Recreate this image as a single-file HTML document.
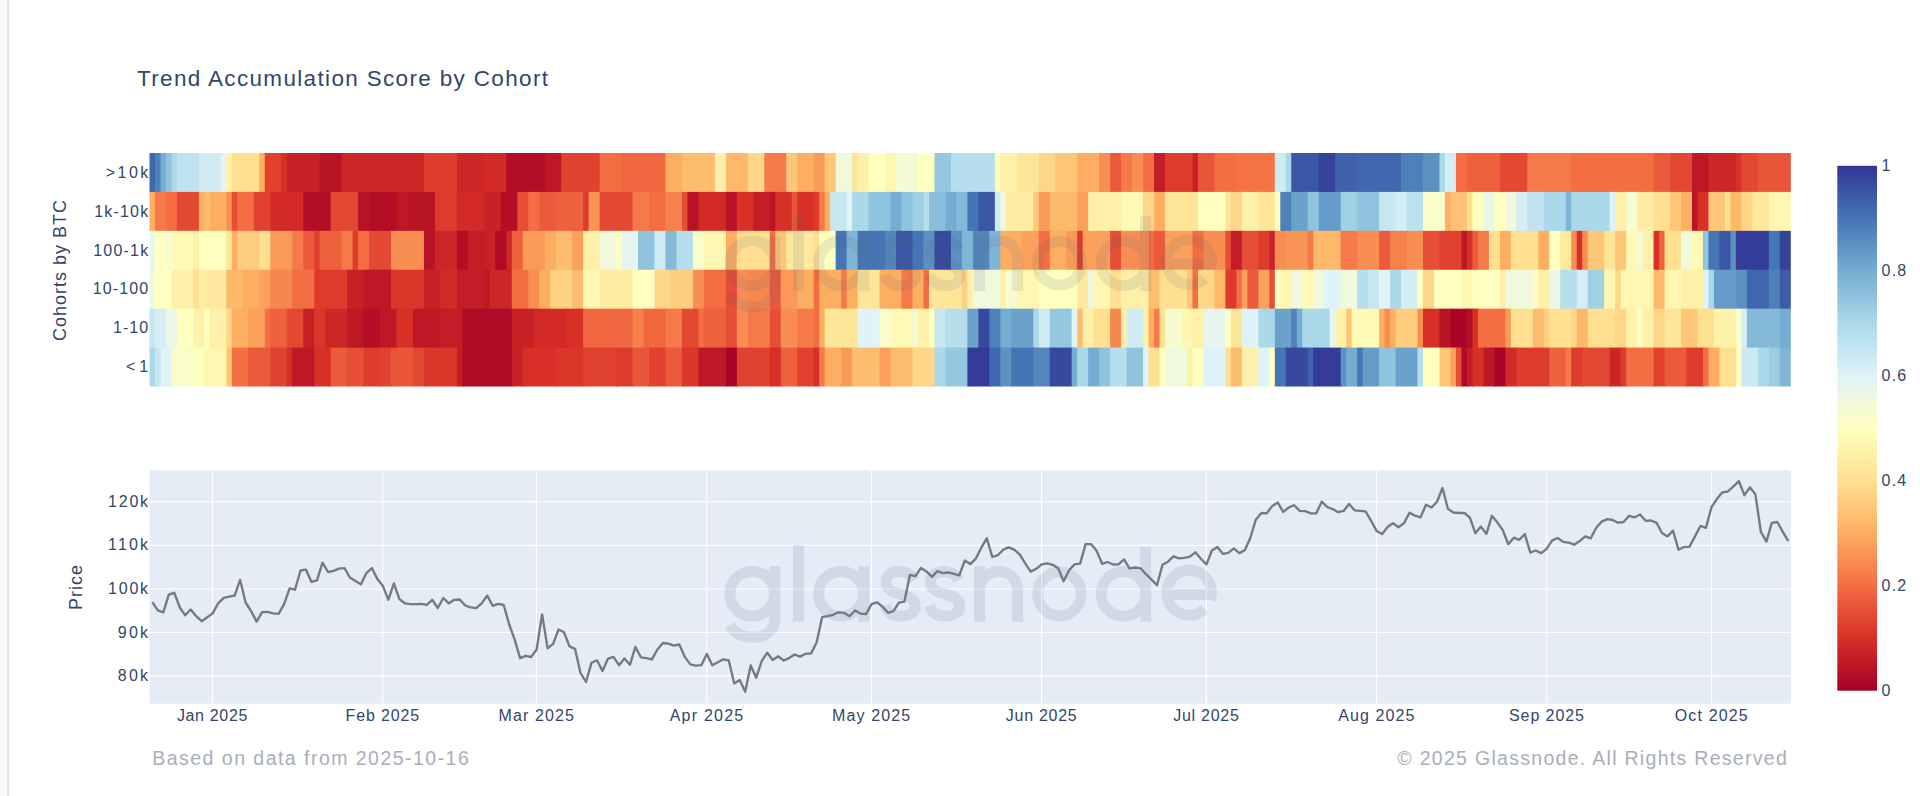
<!DOCTYPE html>
<html><head><meta charset="utf-8"><title>Trend Accumulation Score by Cohort</title>
<style>
html,body{margin:0;padding:0;background:#fff;}
body{width:1920px;height:796px;overflow:hidden;position:relative;font-family:"Liberation Sans",sans-serif;}
#strip{position:absolute;left:0;top:0;width:7px;height:796px;background:#f8f8f8;border-right:2px solid #e6e6e6;}
svg{position:absolute;left:0;top:0;}
text{font-family:"Liberation Sans",sans-serif;fill:#33456a;}
.tk{font-size:16px;}
.ft{font-size:19.5px;fill:#a9aeb9;}
.ax{font-size:18px;letter-spacing:1px;}
.wm{font-size:103px;letter-spacing:3px;fill:#4a5568;}
</style></head><body>
<div id="strip"></div>
<svg width="1920" height="796" viewBox="0 0 1920 796">
<defs><linearGradient id="cb" x1="0" y1="1" x2="0" y2="0">
<stop offset="0%" stop-color="rgb(165,0,38)"/>
<stop offset="10%" stop-color="rgb(215,48,39)"/>
<stop offset="20%" stop-color="rgb(244,109,67)"/>
<stop offset="30%" stop-color="rgb(253,174,97)"/>
<stop offset="40%" stop-color="rgb(254,224,144)"/>
<stop offset="50%" stop-color="rgb(255,255,191)"/>
<stop offset="60%" stop-color="rgb(224,243,248)"/>
<stop offset="70%" stop-color="rgb(171,217,233)"/>
<stop offset="80%" stop-color="rgb(116,173,209)"/>
<stop offset="90%" stop-color="rgb(69,117,180)"/>
<stop offset="100%" stop-color="rgb(49,54,149)"/>
</linearGradient><g id="wm" fill="none" stroke="#56607a" stroke-width="11" stroke-linecap="butt">
<circle cx="752.2" cy="593.8" r="22.4"/>
<path d="M775.1 566 V617 C775.1 631 766 637.3 753 637.3 C742 637.3 734 633 729.5 625"/>
<path d="M798.5 544.8 V621.7"/>
<circle cx="841" cy="593.8" r="22.4"/>
<path d="M864 566 V621.7"/>
<path id="wms" d="M914.5 580 C911 574 905 571.4 899 571.4 C890.5 571.4 886 576.5 886 582 C886 590 893 592 900 593.8 C908 596 915.2 598.5 915.2 606 C915.2 612.5 909 616.2 900.5 616.2 C893 616.2 887.5 613 885 605.5"/>
<use href="#wms" x="44.5"/>
<path d="M979.6 621.7 V566 M979.6 592 C979.6 579 988 571.4 998.6 571.4 C1010 571.4 1017.7 579 1017.7 592 V621.7"/>
<circle cx="1059.5" cy="593.8" r="21.9"/>
<circle cx="1123.6" cy="593.8" r="22.4"/>
<path d="M1145.7 546.8 V621.7"/>
<path d="M1166 594.3 H1215.6 M1210.4 599.8 A22.4 22.4 0 1 0 1204.5 609"/>
</g><filter id="bl" x="-1%" y="-5%" width="102%" height="110%"><feGaussianBlur stdDeviation="0.75 0.45"/></filter><clipPath id="hc"><rect x="149.50" y="153.00" width="1641.30" height="233.52"/></clipPath></defs>
<text x="137" y="86.3" style="font-size:22.5px" textLength="411">Trend Accumulation Score by Cohort</text>
<g clip-path="url(#hc)"><g>
<rect x="145.50" y="149.00" width="10.69" height="44.12" fill="#4168ae"/>
<rect x="154.99" y="149.00" width="6.69" height="44.12" fill="#4e80ba"/>
<rect x="160.48" y="149.00" width="6.69" height="44.12" fill="#74add1"/>
<rect x="165.97" y="149.00" width="6.69" height="44.12" fill="#90c3dd"/>
<rect x="171.46" y="149.00" width="6.69" height="44.12" fill="#abd9e9"/>
<rect x="176.95" y="149.00" width="23.16" height="44.12" fill="#c0e3ef"/>
<rect x="198.90" y="149.00" width="23.16" height="44.12" fill="#d0ebf4"/>
<rect x="220.86" y="149.00" width="6.69" height="44.12" fill="#e6f5ed"/>
<rect x="226.35" y="149.00" width="6.69" height="44.12" fill="#fef0a8"/>
<rect x="231.84" y="149.00" width="28.65" height="44.12" fill="#fee090"/>
<rect x="259.29" y="149.00" width="6.69" height="44.12" fill="#fdae61"/>
<rect x="264.78" y="149.00" width="17.67" height="44.12" fill="#e0422f"/>
<rect x="281.24" y="149.00" width="6.69" height="44.12" fill="#d73027"/>
<rect x="286.73" y="149.00" width="34.14" height="44.12" fill="#c82227"/>
<rect x="319.67" y="149.00" width="23.16" height="44.12" fill="#b91326"/>
<rect x="341.63" y="149.00" width="83.54" height="44.12" fill="#cd2627"/>
<rect x="423.96" y="149.00" width="34.14" height="44.12" fill="#dd3c2d"/>
<rect x="456.90" y="149.00" width="28.65" height="44.12" fill="#cd2627"/>
<rect x="484.35" y="149.00" width="23.16" height="44.12" fill="#d22b27"/>
<rect x="506.30" y="149.00" width="39.63" height="44.12" fill="#b40e26"/>
<rect x="544.73" y="149.00" width="17.67" height="44.12" fill="#be1826"/>
<rect x="561.20" y="149.00" width="39.63" height="44.12" fill="#e0422f"/>
<rect x="599.62" y="149.00" width="23.16" height="44.12" fill="#f46d43"/>
<rect x="621.58" y="149.00" width="45.11" height="44.12" fill="#f16740"/>
<rect x="665.49" y="149.00" width="17.67" height="44.12" fill="#fdae61"/>
<rect x="681.96" y="149.00" width="34.14" height="44.12" fill="#fdbd6f"/>
<rect x="714.90" y="149.00" width="12.18" height="44.12" fill="#fef0a8"/>
<rect x="725.88" y="149.00" width="23.16" height="44.12" fill="#fdb86a"/>
<rect x="747.83" y="149.00" width="17.67" height="44.12" fill="#fed687"/>
<rect x="764.30" y="149.00" width="23.16" height="44.12" fill="#f67a49"/>
<rect x="786.26" y="149.00" width="12.18" height="44.12" fill="#fec778"/>
<rect x="797.24" y="149.00" width="17.67" height="44.12" fill="#fdae61"/>
<rect x="813.71" y="149.00" width="12.18" height="44.12" fill="#fa9a58"/>
<rect x="824.68" y="149.00" width="12.18" height="44.12" fill="#fec778"/>
<rect x="835.66" y="149.00" width="17.67" height="44.12" fill="#f0f9dc"/>
<rect x="852.13" y="149.00" width="6.69" height="44.12" fill="#fee699"/>
<rect x="857.62" y="149.00" width="12.18" height="44.12" fill="#fef0a8"/>
<rect x="868.60" y="149.00" width="17.67" height="44.12" fill="#ffffbf"/>
<rect x="885.07" y="149.00" width="12.18" height="44.12" fill="#fff6b1"/>
<rect x="896.04" y="149.00" width="23.16" height="44.12" fill="#f3fad6"/>
<rect x="918.00" y="149.00" width="17.67" height="44.12" fill="#ffffbf"/>
<rect x="934.47" y="149.00" width="17.67" height="44.12" fill="#95c7df"/>
<rect x="950.94" y="149.00" width="45.11" height="44.12" fill="#b6deec"/>
<rect x="994.85" y="149.00" width="6.69" height="44.12" fill="#ffffbf"/>
<rect x="1000.34" y="149.00" width="17.67" height="44.12" fill="#fef0a8"/>
<rect x="1016.81" y="149.00" width="23.16" height="44.12" fill="#fee699"/>
<rect x="1038.77" y="149.00" width="17.67" height="44.12" fill="#fed687"/>
<rect x="1055.23" y="149.00" width="23.16" height="44.12" fill="#fec778"/>
<rect x="1077.19" y="149.00" width="23.16" height="44.12" fill="#fdae61"/>
<rect x="1099.15" y="149.00" width="12.18" height="44.12" fill="#f88e52"/>
<rect x="1110.13" y="149.00" width="12.18" height="44.12" fill="#eb5b3b"/>
<rect x="1121.11" y="149.00" width="12.18" height="44.12" fill="#f67a49"/>
<rect x="1132.08" y="149.00" width="12.18" height="44.12" fill="#f88e52"/>
<rect x="1143.06" y="149.00" width="12.18" height="44.12" fill="#f46d43"/>
<rect x="1154.04" y="149.00" width="12.18" height="44.12" fill="#c31d27"/>
<rect x="1165.02" y="149.00" width="28.65" height="44.12" fill="#dd3c2d"/>
<rect x="1192.47" y="149.00" width="6.69" height="44.12" fill="#c82227"/>
<rect x="1197.96" y="149.00" width="17.67" height="44.12" fill="#e85538"/>
<rect x="1214.42" y="149.00" width="23.16" height="44.12" fill="#f46d43"/>
<rect x="1236.38" y="149.00" width="39.63" height="44.12" fill="#f57446"/>
<rect x="1274.81" y="149.00" width="12.18" height="44.12" fill="#d0ebf4"/>
<rect x="1285.78" y="149.00" width="6.69" height="44.12" fill="#abd9e9"/>
<rect x="1291.27" y="149.00" width="28.65" height="44.12" fill="#3b56a4"/>
<rect x="1318.72" y="149.00" width="17.67" height="44.12" fill="#35439b"/>
<rect x="1335.19" y="149.00" width="23.16" height="44.12" fill="#3f62ab"/>
<rect x="1357.15" y="149.00" width="45.11" height="44.12" fill="#4168ae"/>
<rect x="1401.06" y="149.00" width="23.16" height="44.12" fill="#4e80ba"/>
<rect x="1423.02" y="149.00" width="17.67" height="44.12" fill="#5c91c2"/>
<rect x="1439.48" y="149.00" width="6.69" height="44.12" fill="#abd9e9"/>
<rect x="1444.97" y="149.00" width="12.18" height="44.12" fill="#d5eef5"/>
<rect x="1455.95" y="149.00" width="12.18" height="44.12" fill="#f46d43"/>
<rect x="1466.93" y="149.00" width="34.14" height="44.12" fill="#ee613d"/>
<rect x="1499.87" y="149.00" width="28.65" height="44.12" fill="#e34832"/>
<rect x="1527.31" y="149.00" width="45.11" height="44.12" fill="#f67a49"/>
<rect x="1571.23" y="149.00" width="83.54" height="44.12" fill="#f46d43"/>
<rect x="1653.57" y="149.00" width="17.67" height="44.12" fill="#eb5b3b"/>
<rect x="1670.04" y="149.00" width="23.16" height="44.12" fill="#e34832"/>
<rect x="1691.99" y="149.00" width="17.67" height="44.12" fill="#be1826"/>
<rect x="1708.46" y="149.00" width="28.65" height="44.12" fill="#cd2627"/>
<rect x="1735.91" y="149.00" width="6.69" height="44.12" fill="#d73027"/>
<rect x="1741.40" y="149.00" width="17.67" height="44.12" fill="#e34832"/>
<rect x="1757.86" y="149.00" width="36.94" height="44.12" fill="#e85538"/>
<rect x="145.50" y="191.92" width="10.69" height="40.12" fill="#fdae61"/>
<rect x="154.99" y="191.92" width="12.18" height="40.12" fill="#f67a49"/>
<rect x="165.97" y="191.92" width="12.18" height="40.12" fill="#f46d43"/>
<rect x="176.95" y="191.92" width="23.16" height="40.12" fill="#e34832"/>
<rect x="198.90" y="191.92" width="6.69" height="40.12" fill="#fdae61"/>
<rect x="204.39" y="191.92" width="6.69" height="40.12" fill="#fdbd6f"/>
<rect x="209.88" y="191.92" width="17.67" height="40.12" fill="#fdae61"/>
<rect x="226.35" y="191.92" width="6.69" height="40.12" fill="#f88e52"/>
<rect x="231.84" y="191.92" width="6.69" height="40.12" fill="#e64e35"/>
<rect x="237.33" y="191.92" width="17.67" height="40.12" fill="#f46d43"/>
<rect x="253.80" y="191.92" width="17.67" height="40.12" fill="#e0422f"/>
<rect x="270.26" y="191.92" width="34.14" height="40.12" fill="#d22b27"/>
<rect x="303.20" y="191.92" width="28.65" height="40.12" fill="#b40e26"/>
<rect x="330.65" y="191.92" width="28.65" height="40.12" fill="#e34832"/>
<rect x="358.09" y="191.92" width="12.18" height="40.12" fill="#b91326"/>
<rect x="369.07" y="191.92" width="28.65" height="40.12" fill="#b40e26"/>
<rect x="396.52" y="191.92" width="12.18" height="40.12" fill="#be1826"/>
<rect x="407.50" y="191.92" width="28.65" height="40.12" fill="#b91326"/>
<rect x="434.94" y="191.92" width="23.16" height="40.12" fill="#dd3c2d"/>
<rect x="456.90" y="191.92" width="28.65" height="40.12" fill="#d22b27"/>
<rect x="484.35" y="191.92" width="17.67" height="40.12" fill="#c82227"/>
<rect x="500.82" y="191.92" width="17.67" height="40.12" fill="#b40e26"/>
<rect x="517.28" y="191.92" width="12.18" height="40.12" fill="#e64e35"/>
<rect x="528.26" y="191.92" width="12.18" height="40.12" fill="#f46d43"/>
<rect x="539.24" y="191.92" width="17.67" height="40.12" fill="#eb5b3b"/>
<rect x="555.71" y="191.92" width="28.65" height="40.12" fill="#ee613d"/>
<rect x="583.15" y="191.92" width="6.69" height="40.12" fill="#dd3c2d"/>
<rect x="588.64" y="191.92" width="12.18" height="40.12" fill="#f99455"/>
<rect x="599.62" y="191.92" width="34.14" height="40.12" fill="#e34832"/>
<rect x="632.56" y="191.92" width="17.67" height="40.12" fill="#f67a49"/>
<rect x="649.03" y="191.92" width="17.67" height="40.12" fill="#f46d43"/>
<rect x="665.49" y="191.92" width="17.67" height="40.12" fill="#f7814c"/>
<rect x="681.96" y="191.92" width="6.69" height="40.12" fill="#e64e35"/>
<rect x="687.45" y="191.92" width="12.18" height="40.12" fill="#b91326"/>
<rect x="698.43" y="191.92" width="28.65" height="40.12" fill="#d22b27"/>
<rect x="725.88" y="191.92" width="12.18" height="40.12" fill="#b91326"/>
<rect x="736.85" y="191.92" width="17.67" height="40.12" fill="#d73027"/>
<rect x="753.32" y="191.92" width="17.67" height="40.12" fill="#c31d27"/>
<rect x="769.79" y="191.92" width="6.69" height="40.12" fill="#b91326"/>
<rect x="775.28" y="191.92" width="17.67" height="40.12" fill="#d73027"/>
<rect x="791.75" y="191.92" width="6.69" height="40.12" fill="#e85538"/>
<rect x="797.24" y="191.92" width="17.67" height="40.12" fill="#d73027"/>
<rect x="813.71" y="191.92" width="6.69" height="40.12" fill="#dd3c2d"/>
<rect x="819.19" y="191.92" width="6.69" height="40.12" fill="#f67a49"/>
<rect x="824.68" y="191.92" width="6.69" height="40.12" fill="#fdae61"/>
<rect x="830.17" y="191.92" width="17.67" height="40.12" fill="#c6e6f0"/>
<rect x="846.64" y="191.92" width="6.69" height="40.12" fill="#e0f3f8"/>
<rect x="852.13" y="191.92" width="17.67" height="40.12" fill="#abd9e9"/>
<rect x="868.60" y="191.92" width="23.16" height="40.12" fill="#90c3dd"/>
<rect x="890.56" y="191.92" width="12.18" height="40.12" fill="#74add1"/>
<rect x="901.53" y="191.92" width="12.18" height="40.12" fill="#90c3dd"/>
<rect x="912.51" y="191.92" width="12.18" height="40.12" fill="#a0d0e4"/>
<rect x="923.49" y="191.92" width="6.69" height="40.12" fill="#b6deec"/>
<rect x="928.98" y="191.92" width="17.67" height="40.12" fill="#8abfdb"/>
<rect x="945.45" y="191.92" width="12.18" height="40.12" fill="#74add1"/>
<rect x="956.43" y="191.92" width="12.18" height="40.12" fill="#84bad8"/>
<rect x="967.41" y="191.92" width="12.18" height="40.12" fill="#4575b4"/>
<rect x="978.38" y="191.92" width="17.67" height="40.12" fill="#3b56a4"/>
<rect x="994.85" y="191.92" width="6.69" height="40.12" fill="#d0ebf4"/>
<rect x="1000.34" y="191.92" width="6.69" height="40.12" fill="#f0f9dc"/>
<rect x="1005.83" y="191.92" width="28.65" height="40.12" fill="#feeca3"/>
<rect x="1033.28" y="191.92" width="6.69" height="40.12" fill="#fec778"/>
<rect x="1038.77" y="191.92" width="12.18" height="40.12" fill="#fa9a58"/>
<rect x="1049.74" y="191.92" width="28.65" height="40.12" fill="#fdb86a"/>
<rect x="1077.19" y="191.92" width="12.18" height="40.12" fill="#fba15b"/>
<rect x="1088.17" y="191.92" width="34.14" height="40.12" fill="#fef0a8"/>
<rect x="1121.11" y="191.92" width="23.16" height="40.12" fill="#fff9b6"/>
<rect x="1143.06" y="191.92" width="12.18" height="40.12" fill="#fed687"/>
<rect x="1154.04" y="191.92" width="12.18" height="40.12" fill="#fdae61"/>
<rect x="1165.02" y="191.92" width="34.14" height="40.12" fill="#fee699"/>
<rect x="1197.96" y="191.92" width="28.65" height="40.12" fill="#ffffbf"/>
<rect x="1225.40" y="191.92" width="6.69" height="40.12" fill="#fee699"/>
<rect x="1230.89" y="191.92" width="12.18" height="40.12" fill="#fed687"/>
<rect x="1241.87" y="191.92" width="17.67" height="40.12" fill="#fef0a8"/>
<rect x="1258.34" y="191.92" width="17.67" height="40.12" fill="#fee699"/>
<rect x="1274.81" y="191.92" width="6.69" height="40.12" fill="#ffffbf"/>
<rect x="1280.30" y="191.92" width="12.18" height="40.12" fill="#4e80ba"/>
<rect x="1291.27" y="191.92" width="17.67" height="40.12" fill="#6ba2cb"/>
<rect x="1307.74" y="191.92" width="12.18" height="40.12" fill="#90c3dd"/>
<rect x="1318.72" y="191.92" width="23.16" height="40.12" fill="#669cc8"/>
<rect x="1340.68" y="191.92" width="17.67" height="40.12" fill="#a0d0e4"/>
<rect x="1357.15" y="191.92" width="23.16" height="40.12" fill="#90c3dd"/>
<rect x="1379.10" y="191.92" width="17.67" height="40.12" fill="#c6e6f0"/>
<rect x="1395.57" y="191.92" width="12.18" height="40.12" fill="#d5eef5"/>
<rect x="1406.55" y="191.92" width="17.67" height="40.12" fill="#bbe1ee"/>
<rect x="1423.02" y="191.92" width="23.16" height="40.12" fill="#f9fdca"/>
<rect x="1444.97" y="191.92" width="6.69" height="40.12" fill="#fdae61"/>
<rect x="1450.46" y="191.92" width="17.67" height="40.12" fill="#fdc274"/>
<rect x="1466.93" y="191.92" width="6.69" height="40.12" fill="#fee090"/>
<rect x="1472.42" y="191.92" width="12.18" height="40.12" fill="#ffffbf"/>
<rect x="1483.40" y="191.92" width="12.18" height="40.12" fill="#e9f7e7"/>
<rect x="1494.38" y="191.92" width="12.18" height="40.12" fill="#ffffbf"/>
<rect x="1505.36" y="191.92" width="12.18" height="40.12" fill="#f0f9dc"/>
<rect x="1516.34" y="191.92" width="12.18" height="40.12" fill="#d5eef5"/>
<rect x="1527.31" y="191.92" width="17.67" height="40.12" fill="#c0e3ef"/>
<rect x="1543.78" y="191.92" width="23.16" height="40.12" fill="#abd9e9"/>
<rect x="1565.74" y="191.92" width="6.69" height="40.12" fill="#7fb6d6"/>
<rect x="1571.23" y="191.92" width="39.63" height="40.12" fill="#abd9e9"/>
<rect x="1609.65" y="191.92" width="6.69" height="40.12" fill="#e0f3f8"/>
<rect x="1615.14" y="191.92" width="12.18" height="40.12" fill="#fef0a8"/>
<rect x="1626.12" y="191.92" width="12.18" height="40.12" fill="#f6fbd0"/>
<rect x="1637.10" y="191.92" width="17.67" height="40.12" fill="#feeca3"/>
<rect x="1653.57" y="191.92" width="17.67" height="40.12" fill="#fee090"/>
<rect x="1670.04" y="191.92" width="12.18" height="40.12" fill="#fec778"/>
<rect x="1681.01" y="191.92" width="12.18" height="40.12" fill="#fdae61"/>
<rect x="1691.99" y="191.92" width="6.69" height="40.12" fill="#b91326"/>
<rect x="1697.48" y="191.92" width="12.18" height="40.12" fill="#d73027"/>
<rect x="1708.46" y="191.92" width="17.67" height="40.12" fill="#fec778"/>
<rect x="1724.93" y="191.92" width="6.69" height="40.12" fill="#fee090"/>
<rect x="1730.42" y="191.92" width="12.18" height="40.12" fill="#fdb86a"/>
<rect x="1741.40" y="191.92" width="12.18" height="40.12" fill="#fed687"/>
<rect x="1752.37" y="191.92" width="17.67" height="40.12" fill="#fee99e"/>
<rect x="1768.84" y="191.92" width="25.96" height="40.12" fill="#fff6b1"/>
<rect x="145.50" y="230.84" width="10.69" height="40.12" fill="#e9f7e7"/>
<rect x="154.99" y="230.84" width="12.18" height="40.12" fill="#ffffbf"/>
<rect x="165.97" y="230.84" width="6.69" height="40.12" fill="#f6fbd0"/>
<rect x="171.46" y="230.84" width="23.16" height="40.12" fill="#fff9b6"/>
<rect x="193.41" y="230.84" width="6.69" height="40.12" fill="#fef0a8"/>
<rect x="198.90" y="230.84" width="28.65" height="40.12" fill="#ffffbf"/>
<rect x="226.35" y="230.84" width="6.69" height="40.12" fill="#fee699"/>
<rect x="231.84" y="230.84" width="6.69" height="40.12" fill="#fdae61"/>
<rect x="237.33" y="230.84" width="23.16" height="40.12" fill="#fecc7d"/>
<rect x="259.29" y="230.84" width="12.18" height="40.12" fill="#fee090"/>
<rect x="270.26" y="230.84" width="23.16" height="40.12" fill="#fa9a58"/>
<rect x="292.22" y="230.84" width="12.18" height="40.12" fill="#f67a49"/>
<rect x="303.20" y="230.84" width="12.18" height="40.12" fill="#eb5b3b"/>
<rect x="314.18" y="230.84" width="6.69" height="40.12" fill="#e0422f"/>
<rect x="319.67" y="230.84" width="23.16" height="40.12" fill="#ee613d"/>
<rect x="341.63" y="230.84" width="12.18" height="40.12" fill="#f67a49"/>
<rect x="352.60" y="230.84" width="6.69" height="40.12" fill="#dd3c2d"/>
<rect x="358.09" y="230.84" width="12.18" height="40.12" fill="#f46d43"/>
<rect x="369.07" y="230.84" width="23.16" height="40.12" fill="#e34832"/>
<rect x="391.03" y="230.84" width="34.14" height="40.12" fill="#f88e52"/>
<rect x="423.96" y="230.84" width="12.18" height="40.12" fill="#b91326"/>
<rect x="434.94" y="230.84" width="23.16" height="40.12" fill="#cd2627"/>
<rect x="456.90" y="230.84" width="12.18" height="40.12" fill="#b40e26"/>
<rect x="467.88" y="230.84" width="17.67" height="40.12" fill="#c31d27"/>
<rect x="484.35" y="230.84" width="12.18" height="40.12" fill="#c82227"/>
<rect x="495.33" y="230.84" width="12.18" height="40.12" fill="#af0a26"/>
<rect x="506.30" y="230.84" width="6.69" height="40.12" fill="#cd2627"/>
<rect x="511.79" y="230.84" width="12.18" height="40.12" fill="#ee613d"/>
<rect x="522.77" y="230.84" width="23.16" height="40.12" fill="#fa9a58"/>
<rect x="544.73" y="230.84" width="12.18" height="40.12" fill="#fdae61"/>
<rect x="555.71" y="230.84" width="17.67" height="40.12" fill="#fdbd6f"/>
<rect x="572.18" y="230.84" width="12.18" height="40.12" fill="#fba15b"/>
<rect x="583.15" y="230.84" width="17.67" height="40.12" fill="#fef0a8"/>
<rect x="599.62" y="230.84" width="17.67" height="40.12" fill="#f0f9dc"/>
<rect x="616.09" y="230.84" width="6.69" height="40.12" fill="#ffffbf"/>
<rect x="621.58" y="230.84" width="17.67" height="40.12" fill="#e6f5ed"/>
<rect x="638.05" y="230.84" width="17.67" height="40.12" fill="#90c3dd"/>
<rect x="654.52" y="230.84" width="12.18" height="40.12" fill="#d0ebf4"/>
<rect x="665.49" y="230.84" width="12.18" height="40.12" fill="#84bad8"/>
<rect x="676.47" y="230.84" width="17.67" height="40.12" fill="#b6deec"/>
<rect x="692.94" y="230.84" width="12.18" height="40.12" fill="#f9fdca"/>
<rect x="703.92" y="230.84" width="23.16" height="40.12" fill="#fff6b1"/>
<rect x="725.88" y="230.84" width="12.18" height="40.12" fill="#fdae61"/>
<rect x="736.85" y="230.84" width="34.14" height="40.12" fill="#fee090"/>
<rect x="769.79" y="230.84" width="6.69" height="40.12" fill="#f46d43"/>
<rect x="775.28" y="230.84" width="12.18" height="40.12" fill="#fec778"/>
<rect x="786.26" y="230.84" width="28.65" height="40.12" fill="#fee99e"/>
<rect x="813.71" y="230.84" width="6.69" height="40.12" fill="#fee090"/>
<rect x="819.19" y="230.84" width="17.67" height="40.12" fill="#ffffbf"/>
<rect x="835.66" y="230.84" width="12.18" height="40.12" fill="#4575b4"/>
<rect x="846.64" y="230.84" width="12.18" height="40.12" fill="#7fb6d6"/>
<rect x="857.62" y="230.84" width="28.65" height="40.12" fill="#4575b4"/>
<rect x="885.07" y="230.84" width="12.18" height="40.12" fill="#5386bd"/>
<rect x="896.04" y="230.84" width="17.67" height="40.12" fill="#3b56a4"/>
<rect x="912.51" y="230.84" width="12.18" height="40.12" fill="#4575b4"/>
<rect x="923.49" y="230.84" width="12.18" height="40.12" fill="#5c91c2"/>
<rect x="934.47" y="230.84" width="17.67" height="40.12" fill="#37499e"/>
<rect x="950.94" y="230.84" width="12.18" height="40.12" fill="#5c91c2"/>
<rect x="961.92" y="230.84" width="12.18" height="40.12" fill="#7fb6d6"/>
<rect x="972.89" y="230.84" width="17.67" height="40.12" fill="#5386bd"/>
<rect x="989.36" y="230.84" width="12.18" height="40.12" fill="#7fb6d6"/>
<rect x="1000.34" y="230.84" width="23.16" height="40.12" fill="#fdae61"/>
<rect x="1022.30" y="230.84" width="17.67" height="40.12" fill="#fba15b"/>
<rect x="1038.77" y="230.84" width="12.18" height="40.12" fill="#f46d43"/>
<rect x="1049.74" y="230.84" width="17.67" height="40.12" fill="#fdae61"/>
<rect x="1066.21" y="230.84" width="12.18" height="40.12" fill="#fa9a58"/>
<rect x="1077.19" y="230.84" width="6.69" height="40.12" fill="#dd3c2d"/>
<rect x="1082.68" y="230.84" width="28.65" height="40.12" fill="#fba15b"/>
<rect x="1110.13" y="230.84" width="12.18" height="40.12" fill="#e64e35"/>
<rect x="1121.11" y="230.84" width="28.65" height="40.12" fill="#f88e52"/>
<rect x="1148.55" y="230.84" width="6.69" height="40.12" fill="#f46d43"/>
<rect x="1154.04" y="230.84" width="12.18" height="40.12" fill="#eb5b3b"/>
<rect x="1165.02" y="230.84" width="28.65" height="40.12" fill="#fba15b"/>
<rect x="1192.47" y="230.84" width="12.18" height="40.12" fill="#f46d43"/>
<rect x="1203.45" y="230.84" width="23.16" height="40.12" fill="#f88e52"/>
<rect x="1225.40" y="230.84" width="6.69" height="40.12" fill="#e64e35"/>
<rect x="1230.89" y="230.84" width="12.18" height="40.12" fill="#c31d27"/>
<rect x="1241.87" y="230.84" width="17.67" height="40.12" fill="#e64e35"/>
<rect x="1258.34" y="230.84" width="12.18" height="40.12" fill="#dd3c2d"/>
<rect x="1269.32" y="230.84" width="6.69" height="40.12" fill="#c82227"/>
<rect x="1274.81" y="230.84" width="12.18" height="40.12" fill="#f88e52"/>
<rect x="1285.78" y="230.84" width="23.16" height="40.12" fill="#f99455"/>
<rect x="1307.74" y="230.84" width="6.69" height="40.12" fill="#f67a49"/>
<rect x="1313.23" y="230.84" width="28.65" height="40.12" fill="#fdb86a"/>
<rect x="1340.68" y="230.84" width="17.67" height="40.12" fill="#f67a49"/>
<rect x="1357.15" y="230.84" width="23.16" height="40.12" fill="#f88e52"/>
<rect x="1379.10" y="230.84" width="12.18" height="40.12" fill="#eb5b3b"/>
<rect x="1390.08" y="230.84" width="17.67" height="40.12" fill="#f7814c"/>
<rect x="1406.55" y="230.84" width="17.67" height="40.12" fill="#f88e52"/>
<rect x="1423.02" y="230.84" width="17.67" height="40.12" fill="#e64e35"/>
<rect x="1439.48" y="230.84" width="23.16" height="40.12" fill="#e0422f"/>
<rect x="1461.44" y="230.84" width="6.69" height="40.12" fill="#be1826"/>
<rect x="1466.93" y="230.84" width="6.69" height="40.12" fill="#d73027"/>
<rect x="1472.42" y="230.84" width="6.69" height="40.12" fill="#eb5b3b"/>
<rect x="1477.91" y="230.84" width="12.18" height="40.12" fill="#f67a49"/>
<rect x="1488.89" y="230.84" width="12.18" height="40.12" fill="#fee090"/>
<rect x="1499.87" y="230.84" width="12.18" height="40.12" fill="#fdae61"/>
<rect x="1510.85" y="230.84" width="28.65" height="40.12" fill="#fee090"/>
<rect x="1538.29" y="230.84" width="12.18" height="40.12" fill="#fdae61"/>
<rect x="1549.27" y="230.84" width="12.18" height="40.12" fill="#ffffbf"/>
<rect x="1560.25" y="230.84" width="12.18" height="40.12" fill="#fee99e"/>
<rect x="1571.23" y="230.84" width="6.69" height="40.12" fill="#f88e52"/>
<rect x="1576.72" y="230.84" width="6.69" height="40.12" fill="#d73027"/>
<rect x="1582.21" y="230.84" width="6.69" height="40.12" fill="#f88e52"/>
<rect x="1587.70" y="230.84" width="17.67" height="40.12" fill="#fec778"/>
<rect x="1604.16" y="230.84" width="12.18" height="40.12" fill="#fee699"/>
<rect x="1615.14" y="230.84" width="12.18" height="40.12" fill="#fec778"/>
<rect x="1626.12" y="230.84" width="12.18" height="40.12" fill="#fff9b6"/>
<rect x="1637.10" y="230.84" width="6.69" height="40.12" fill="#f0f9dc"/>
<rect x="1642.59" y="230.84" width="12.18" height="40.12" fill="#fef0a8"/>
<rect x="1653.57" y="230.84" width="6.69" height="40.12" fill="#d73027"/>
<rect x="1659.06" y="230.84" width="6.69" height="40.12" fill="#ee613d"/>
<rect x="1664.55" y="230.84" width="17.67" height="40.12" fill="#fee090"/>
<rect x="1681.01" y="230.84" width="12.18" height="40.12" fill="#f0f9dc"/>
<rect x="1691.99" y="230.84" width="12.18" height="40.12" fill="#fff9b6"/>
<rect x="1702.97" y="230.84" width="6.69" height="40.12" fill="#90c3dd"/>
<rect x="1708.46" y="230.84" width="12.18" height="40.12" fill="#4575b4"/>
<rect x="1719.44" y="230.84" width="12.18" height="40.12" fill="#3b56a4"/>
<rect x="1730.42" y="230.84" width="6.69" height="40.12" fill="#5c91c2"/>
<rect x="1735.91" y="230.84" width="34.14" height="40.12" fill="#333c98"/>
<rect x="1768.84" y="230.84" width="12.18" height="40.12" fill="#4575b4"/>
<rect x="1779.82" y="230.84" width="14.98" height="40.12" fill="#35439b"/>
<rect x="145.50" y="269.76" width="10.69" height="40.12" fill="#f0f9dc"/>
<rect x="154.99" y="269.76" width="17.67" height="40.12" fill="#ffffbf"/>
<rect x="171.46" y="269.76" width="23.16" height="40.12" fill="#fef0a8"/>
<rect x="193.41" y="269.76" width="6.69" height="40.12" fill="#fee090"/>
<rect x="198.90" y="269.76" width="6.69" height="40.12" fill="#fef0a8"/>
<rect x="204.39" y="269.76" width="23.16" height="40.12" fill="#fee99e"/>
<rect x="226.35" y="269.76" width="17.67" height="40.12" fill="#fdb86a"/>
<rect x="242.82" y="269.76" width="17.67" height="40.12" fill="#fdae61"/>
<rect x="259.29" y="269.76" width="12.18" height="40.12" fill="#fba15b"/>
<rect x="270.26" y="269.76" width="23.16" height="40.12" fill="#f8874f"/>
<rect x="292.22" y="269.76" width="23.16" height="40.12" fill="#f46d43"/>
<rect x="314.18" y="269.76" width="34.14" height="40.12" fill="#dd3c2d"/>
<rect x="347.11" y="269.76" width="17.67" height="40.12" fill="#c82227"/>
<rect x="363.58" y="269.76" width="28.65" height="40.12" fill="#be1826"/>
<rect x="391.03" y="269.76" width="34.14" height="40.12" fill="#da362a"/>
<rect x="423.96" y="269.76" width="17.67" height="40.12" fill="#c82227"/>
<rect x="440.43" y="269.76" width="17.67" height="40.12" fill="#d22b27"/>
<rect x="456.90" y="269.76" width="28.65" height="40.12" fill="#c31d27"/>
<rect x="484.35" y="269.76" width="6.69" height="40.12" fill="#be1826"/>
<rect x="489.84" y="269.76" width="23.16" height="40.12" fill="#cd2627"/>
<rect x="511.79" y="269.76" width="17.67" height="40.12" fill="#f46d43"/>
<rect x="528.26" y="269.76" width="12.18" height="40.12" fill="#f88e52"/>
<rect x="539.24" y="269.76" width="12.18" height="40.12" fill="#fdae61"/>
<rect x="550.22" y="269.76" width="23.16" height="40.12" fill="#fed182"/>
<rect x="572.18" y="269.76" width="12.18" height="40.12" fill="#fdbd6f"/>
<rect x="583.15" y="269.76" width="17.67" height="40.12" fill="#fff6b1"/>
<rect x="599.62" y="269.76" width="34.14" height="40.12" fill="#feeca3"/>
<rect x="632.56" y="269.76" width="23.16" height="40.12" fill="#ffffbf"/>
<rect x="654.52" y="269.76" width="17.67" height="40.12" fill="#fed687"/>
<rect x="670.98" y="269.76" width="23.16" height="40.12" fill="#fecc7d"/>
<rect x="692.94" y="269.76" width="12.18" height="40.12" fill="#f88e52"/>
<rect x="703.92" y="269.76" width="23.16" height="40.12" fill="#f46d43"/>
<rect x="725.88" y="269.76" width="12.18" height="40.12" fill="#e64e35"/>
<rect x="736.85" y="269.76" width="12.18" height="40.12" fill="#f88e52"/>
<rect x="747.83" y="269.76" width="23.16" height="40.12" fill="#f8874f"/>
<rect x="769.79" y="269.76" width="12.18" height="40.12" fill="#eb5b3b"/>
<rect x="780.77" y="269.76" width="17.67" height="40.12" fill="#fa9a58"/>
<rect x="797.24" y="269.76" width="17.67" height="40.12" fill="#fdae61"/>
<rect x="813.71" y="269.76" width="6.69" height="40.12" fill="#f46d43"/>
<rect x="819.19" y="269.76" width="23.16" height="40.12" fill="#fdae61"/>
<rect x="841.15" y="269.76" width="6.69" height="40.12" fill="#f67a49"/>
<rect x="846.64" y="269.76" width="12.18" height="40.12" fill="#fdae61"/>
<rect x="857.62" y="269.76" width="23.16" height="40.12" fill="#fee699"/>
<rect x="879.58" y="269.76" width="23.16" height="40.12" fill="#fdae61"/>
<rect x="901.53" y="269.76" width="12.18" height="40.12" fill="#f67a49"/>
<rect x="912.51" y="269.76" width="12.18" height="40.12" fill="#fdae61"/>
<rect x="923.49" y="269.76" width="6.69" height="40.12" fill="#f46d43"/>
<rect x="928.98" y="269.76" width="34.14" height="40.12" fill="#fee699"/>
<rect x="961.92" y="269.76" width="6.69" height="40.12" fill="#fed182"/>
<rect x="967.41" y="269.76" width="6.69" height="40.12" fill="#fef0a8"/>
<rect x="972.89" y="269.76" width="28.65" height="40.12" fill="#f0f9dc"/>
<rect x="1000.34" y="269.76" width="6.69" height="40.12" fill="#fef0a8"/>
<rect x="1005.83" y="269.76" width="12.18" height="40.12" fill="#f6fbd0"/>
<rect x="1016.81" y="269.76" width="23.16" height="40.12" fill="#fff6b1"/>
<rect x="1038.77" y="269.76" width="39.63" height="40.12" fill="#ffffbf"/>
<rect x="1077.19" y="269.76" width="12.18" height="40.12" fill="#fee99e"/>
<rect x="1088.17" y="269.76" width="6.69" height="40.12" fill="#e9f7e7"/>
<rect x="1093.66" y="269.76" width="17.67" height="40.12" fill="#fff6b1"/>
<rect x="1110.13" y="269.76" width="12.18" height="40.12" fill="#fee090"/>
<rect x="1121.11" y="269.76" width="28.65" height="40.12" fill="#fef0a8"/>
<rect x="1148.55" y="269.76" width="12.18" height="40.12" fill="#fdbd6f"/>
<rect x="1159.53" y="269.76" width="28.65" height="40.12" fill="#fee090"/>
<rect x="1186.98" y="269.76" width="6.69" height="40.12" fill="#fec778"/>
<rect x="1192.47" y="269.76" width="6.69" height="40.12" fill="#f46d43"/>
<rect x="1197.96" y="269.76" width="17.67" height="40.12" fill="#fed687"/>
<rect x="1214.42" y="269.76" width="12.18" height="40.12" fill="#fdb86a"/>
<rect x="1225.40" y="269.76" width="12.18" height="40.12" fill="#dd3c2d"/>
<rect x="1236.38" y="269.76" width="6.69" height="40.12" fill="#f46d43"/>
<rect x="1241.87" y="269.76" width="6.69" height="40.12" fill="#fba15b"/>
<rect x="1247.36" y="269.76" width="12.18" height="40.12" fill="#eb5b3b"/>
<rect x="1258.34" y="269.76" width="12.18" height="40.12" fill="#fba15b"/>
<rect x="1269.32" y="269.76" width="6.69" height="40.12" fill="#e64e35"/>
<rect x="1274.81" y="269.76" width="6.69" height="40.12" fill="#ffffbf"/>
<rect x="1280.30" y="269.76" width="12.18" height="40.12" fill="#fff6b1"/>
<rect x="1291.27" y="269.76" width="12.18" height="40.12" fill="#f0f9dc"/>
<rect x="1302.25" y="269.76" width="12.18" height="40.12" fill="#fff9b6"/>
<rect x="1313.23" y="269.76" width="12.18" height="40.12" fill="#f0f9dc"/>
<rect x="1324.21" y="269.76" width="17.67" height="40.12" fill="#e0f3f8"/>
<rect x="1340.68" y="269.76" width="17.67" height="40.12" fill="#f0f9dc"/>
<rect x="1357.15" y="269.76" width="12.18" height="40.12" fill="#b6deec"/>
<rect x="1368.12" y="269.76" width="12.18" height="40.12" fill="#c6e6f0"/>
<rect x="1379.10" y="269.76" width="12.18" height="40.12" fill="#e0f3f8"/>
<rect x="1390.08" y="269.76" width="12.18" height="40.12" fill="#abd9e9"/>
<rect x="1401.06" y="269.76" width="17.67" height="40.12" fill="#d5eef5"/>
<rect x="1417.53" y="269.76" width="6.69" height="40.12" fill="#ffffbf"/>
<rect x="1423.02" y="269.76" width="12.18" height="40.12" fill="#fed687"/>
<rect x="1434.00" y="269.76" width="28.65" height="40.12" fill="#ffffbf"/>
<rect x="1461.44" y="269.76" width="12.18" height="40.12" fill="#fff6b1"/>
<rect x="1472.42" y="269.76" width="28.65" height="40.12" fill="#ffffbf"/>
<rect x="1499.87" y="269.76" width="6.69" height="40.12" fill="#fef0a8"/>
<rect x="1505.36" y="269.76" width="28.65" height="40.12" fill="#f0f9dc"/>
<rect x="1532.80" y="269.76" width="6.69" height="40.12" fill="#ffffbf"/>
<rect x="1538.29" y="269.76" width="12.18" height="40.12" fill="#fef0a8"/>
<rect x="1549.27" y="269.76" width="12.18" height="40.12" fill="#e9f7e7"/>
<rect x="1560.25" y="269.76" width="17.67" height="40.12" fill="#b6deec"/>
<rect x="1576.72" y="269.76" width="12.18" height="40.12" fill="#d5eef5"/>
<rect x="1587.70" y="269.76" width="17.67" height="40.12" fill="#a0d0e4"/>
<rect x="1604.16" y="269.76" width="12.18" height="40.12" fill="#fff6b1"/>
<rect x="1615.14" y="269.76" width="6.69" height="40.12" fill="#fed687"/>
<rect x="1620.63" y="269.76" width="34.14" height="40.12" fill="#fff6b1"/>
<rect x="1653.57" y="269.76" width="12.18" height="40.12" fill="#fdb86a"/>
<rect x="1664.55" y="269.76" width="17.67" height="40.12" fill="#fff6b1"/>
<rect x="1681.01" y="269.76" width="23.16" height="40.12" fill="#fef0a8"/>
<rect x="1702.97" y="269.76" width="6.69" height="40.12" fill="#e0f3f8"/>
<rect x="1708.46" y="269.76" width="6.69" height="40.12" fill="#abd9e9"/>
<rect x="1713.95" y="269.76" width="23.16" height="40.12" fill="#669cc8"/>
<rect x="1735.91" y="269.76" width="12.18" height="40.12" fill="#5c91c2"/>
<rect x="1746.89" y="269.76" width="23.16" height="40.12" fill="#4168ae"/>
<rect x="1768.84" y="269.76" width="12.18" height="40.12" fill="#4e80ba"/>
<rect x="1779.82" y="269.76" width="14.98" height="40.12" fill="#3d5ca8"/>
<rect x="145.50" y="308.68" width="10.69" height="40.12" fill="#c6e6f0"/>
<rect x="154.99" y="308.68" width="12.18" height="40.12" fill="#d5eef5"/>
<rect x="165.97" y="308.68" width="12.18" height="40.12" fill="#e9f7e7"/>
<rect x="176.95" y="308.68" width="17.67" height="40.12" fill="#ffffbf"/>
<rect x="193.41" y="308.68" width="12.18" height="40.12" fill="#fff3ac"/>
<rect x="204.39" y="308.68" width="6.69" height="40.12" fill="#ffffbf"/>
<rect x="209.88" y="308.68" width="17.67" height="40.12" fill="#fef0a8"/>
<rect x="226.35" y="308.68" width="6.69" height="40.12" fill="#fed687"/>
<rect x="231.84" y="308.68" width="17.67" height="40.12" fill="#fdae61"/>
<rect x="248.31" y="308.68" width="17.67" height="40.12" fill="#fba15b"/>
<rect x="264.78" y="308.68" width="6.69" height="40.12" fill="#f46d43"/>
<rect x="270.26" y="308.68" width="17.67" height="40.12" fill="#ee613d"/>
<rect x="286.73" y="308.68" width="17.67" height="40.12" fill="#e34832"/>
<rect x="303.20" y="308.68" width="12.18" height="40.12" fill="#c82227"/>
<rect x="314.18" y="308.68" width="12.18" height="40.12" fill="#da362a"/>
<rect x="325.16" y="308.68" width="23.16" height="40.12" fill="#cd2627"/>
<rect x="347.11" y="308.68" width="17.67" height="40.12" fill="#be1826"/>
<rect x="363.58" y="308.68" width="17.67" height="40.12" fill="#b40e26"/>
<rect x="380.05" y="308.68" width="17.67" height="40.12" fill="#be1826"/>
<rect x="396.52" y="308.68" width="17.67" height="40.12" fill="#d73027"/>
<rect x="412.99" y="308.68" width="28.65" height="40.12" fill="#be1826"/>
<rect x="440.43" y="308.68" width="23.16" height="40.12" fill="#c31d27"/>
<rect x="462.39" y="308.68" width="50.60" height="40.12" fill="#af0a26"/>
<rect x="511.79" y="308.68" width="23.16" height="40.12" fill="#c82227"/>
<rect x="533.75" y="308.68" width="34.14" height="40.12" fill="#d22b27"/>
<rect x="566.69" y="308.68" width="17.67" height="40.12" fill="#d73027"/>
<rect x="583.15" y="308.68" width="50.60" height="40.12" fill="#f16740"/>
<rect x="632.56" y="308.68" width="12.18" height="40.12" fill="#f7814c"/>
<rect x="643.54" y="308.68" width="23.16" height="40.12" fill="#f16740"/>
<rect x="665.49" y="308.68" width="17.67" height="40.12" fill="#f67a49"/>
<rect x="681.96" y="308.68" width="17.67" height="40.12" fill="#e34832"/>
<rect x="698.43" y="308.68" width="6.69" height="40.12" fill="#f46d43"/>
<rect x="703.92" y="308.68" width="23.16" height="40.12" fill="#ee613d"/>
<rect x="725.88" y="308.68" width="12.18" height="40.12" fill="#e64e35"/>
<rect x="736.85" y="308.68" width="12.18" height="40.12" fill="#f88e52"/>
<rect x="747.83" y="308.68" width="23.16" height="40.12" fill="#f67a49"/>
<rect x="769.79" y="308.68" width="12.18" height="40.12" fill="#e64e35"/>
<rect x="780.77" y="308.68" width="17.67" height="40.12" fill="#f88e52"/>
<rect x="797.24" y="308.68" width="17.67" height="40.12" fill="#f67a49"/>
<rect x="813.71" y="308.68" width="6.69" height="40.12" fill="#f46d43"/>
<rect x="819.19" y="308.68" width="6.69" height="40.12" fill="#fdae61"/>
<rect x="824.68" y="308.68" width="34.14" height="40.12" fill="#fee699"/>
<rect x="857.62" y="308.68" width="23.16" height="40.12" fill="#e0f3f8"/>
<rect x="879.58" y="308.68" width="12.18" height="40.12" fill="#f9fdca"/>
<rect x="890.56" y="308.68" width="23.16" height="40.12" fill="#fff9b6"/>
<rect x="912.51" y="308.68" width="6.69" height="40.12" fill="#f0f9dc"/>
<rect x="918.00" y="308.68" width="12.18" height="40.12" fill="#fef0a8"/>
<rect x="928.98" y="308.68" width="6.69" height="40.12" fill="#ffffbf"/>
<rect x="934.47" y="308.68" width="12.18" height="40.12" fill="#c6e6f0"/>
<rect x="945.45" y="308.68" width="23.16" height="40.12" fill="#b6deec"/>
<rect x="967.41" y="308.68" width="12.18" height="40.12" fill="#6ba2cb"/>
<rect x="978.38" y="308.68" width="12.18" height="40.12" fill="#37499e"/>
<rect x="989.36" y="308.68" width="12.18" height="40.12" fill="#4e80ba"/>
<rect x="1000.34" y="308.68" width="12.18" height="40.12" fill="#74add1"/>
<rect x="1011.32" y="308.68" width="23.16" height="40.12" fill="#6ba2cb"/>
<rect x="1033.28" y="308.68" width="6.69" height="40.12" fill="#abd9e9"/>
<rect x="1038.77" y="308.68" width="12.18" height="40.12" fill="#d0ebf4"/>
<rect x="1049.74" y="308.68" width="23.16" height="40.12" fill="#95c7df"/>
<rect x="1071.70" y="308.68" width="6.69" height="40.12" fill="#e0f3f8"/>
<rect x="1077.19" y="308.68" width="6.69" height="40.12" fill="#fdbd6f"/>
<rect x="1082.68" y="308.68" width="12.18" height="40.12" fill="#fef0a8"/>
<rect x="1093.66" y="308.68" width="17.67" height="40.12" fill="#fee090"/>
<rect x="1110.13" y="308.68" width="12.18" height="40.12" fill="#f8874f"/>
<rect x="1121.11" y="308.68" width="6.69" height="40.12" fill="#fef0a8"/>
<rect x="1126.59" y="308.68" width="17.67" height="40.12" fill="#d0ebf4"/>
<rect x="1143.06" y="308.68" width="6.69" height="40.12" fill="#fef0a8"/>
<rect x="1148.55" y="308.68" width="6.69" height="40.12" fill="#fdae61"/>
<rect x="1154.04" y="308.68" width="6.69" height="40.12" fill="#f67a49"/>
<rect x="1159.53" y="308.68" width="6.69" height="40.12" fill="#fee090"/>
<rect x="1165.02" y="308.68" width="17.67" height="40.12" fill="#f6fbd0"/>
<rect x="1181.49" y="308.68" width="12.18" height="40.12" fill="#fff6b1"/>
<rect x="1192.47" y="308.68" width="12.18" height="40.12" fill="#fef0a8"/>
<rect x="1203.45" y="308.68" width="23.16" height="40.12" fill="#e6f5ed"/>
<rect x="1225.40" y="308.68" width="6.69" height="40.12" fill="#ffffbf"/>
<rect x="1230.89" y="308.68" width="12.18" height="40.12" fill="#fee699"/>
<rect x="1241.87" y="308.68" width="17.67" height="40.12" fill="#e0f3f8"/>
<rect x="1258.34" y="308.68" width="17.67" height="40.12" fill="#abd9e9"/>
<rect x="1274.81" y="308.68" width="17.67" height="40.12" fill="#6ba2cb"/>
<rect x="1291.27" y="308.68" width="6.69" height="40.12" fill="#4e80ba"/>
<rect x="1296.76" y="308.68" width="6.69" height="40.12" fill="#74add1"/>
<rect x="1302.25" y="308.68" width="28.65" height="40.12" fill="#abd9e9"/>
<rect x="1329.70" y="308.68" width="6.69" height="40.12" fill="#e6f5ed"/>
<rect x="1335.19" y="308.68" width="12.18" height="40.12" fill="#fef0a8"/>
<rect x="1346.17" y="308.68" width="6.69" height="40.12" fill="#fec778"/>
<rect x="1351.66" y="308.68" width="28.65" height="40.12" fill="#fff9b6"/>
<rect x="1379.10" y="308.68" width="6.69" height="40.12" fill="#fdae61"/>
<rect x="1384.59" y="308.68" width="6.69" height="40.12" fill="#f88e52"/>
<rect x="1390.08" y="308.68" width="6.69" height="40.12" fill="#fdae61"/>
<rect x="1395.57" y="308.68" width="23.16" height="40.12" fill="#fecc7d"/>
<rect x="1417.53" y="308.68" width="6.69" height="40.12" fill="#f88e52"/>
<rect x="1423.02" y="308.68" width="17.67" height="40.12" fill="#d73027"/>
<rect x="1439.48" y="308.68" width="12.18" height="40.12" fill="#b91326"/>
<rect x="1450.46" y="308.68" width="17.67" height="40.12" fill="#aa0526"/>
<rect x="1466.93" y="308.68" width="6.69" height="40.12" fill="#b40e26"/>
<rect x="1472.42" y="308.68" width="6.69" height="40.12" fill="#d73027"/>
<rect x="1477.91" y="308.68" width="28.65" height="40.12" fill="#f46d43"/>
<rect x="1505.36" y="308.68" width="6.69" height="40.12" fill="#fa9a58"/>
<rect x="1510.85" y="308.68" width="23.16" height="40.12" fill="#fee090"/>
<rect x="1532.80" y="308.68" width="12.18" height="40.12" fill="#fdbd6f"/>
<rect x="1543.78" y="308.68" width="6.69" height="40.12" fill="#fed182"/>
<rect x="1549.27" y="308.68" width="23.16" height="40.12" fill="#fee090"/>
<rect x="1571.23" y="308.68" width="6.69" height="40.12" fill="#fed687"/>
<rect x="1576.72" y="308.68" width="12.18" height="40.12" fill="#fdb86a"/>
<rect x="1587.70" y="308.68" width="28.65" height="40.12" fill="#fee090"/>
<rect x="1615.14" y="308.68" width="12.18" height="40.12" fill="#fed687"/>
<rect x="1626.12" y="308.68" width="12.18" height="40.12" fill="#fff3ac"/>
<rect x="1637.10" y="308.68" width="6.69" height="40.12" fill="#f9fdca"/>
<rect x="1642.59" y="308.68" width="12.18" height="40.12" fill="#fef0a8"/>
<rect x="1653.57" y="308.68" width="12.18" height="40.12" fill="#fed687"/>
<rect x="1664.55" y="308.68" width="17.67" height="40.12" fill="#fee699"/>
<rect x="1681.01" y="308.68" width="17.67" height="40.12" fill="#fec778"/>
<rect x="1697.48" y="308.68" width="17.67" height="40.12" fill="#fee090"/>
<rect x="1713.95" y="308.68" width="23.16" height="40.12" fill="#fff3ac"/>
<rect x="1735.91" y="308.68" width="6.69" height="40.12" fill="#f9fdca"/>
<rect x="1741.40" y="308.68" width="6.69" height="40.12" fill="#d5eef5"/>
<rect x="1746.89" y="308.68" width="34.14" height="40.12" fill="#84bad8"/>
<rect x="1779.82" y="308.68" width="14.98" height="40.12" fill="#74add1"/>
<rect x="145.50" y="347.60" width="10.69" height="44.12" fill="#abd9e9"/>
<rect x="154.99" y="347.60" width="6.69" height="44.12" fill="#c6e6f0"/>
<rect x="160.48" y="347.60" width="12.18" height="44.12" fill="#e0f3f8"/>
<rect x="171.46" y="347.60" width="23.16" height="44.12" fill="#f9fdca"/>
<rect x="193.41" y="347.60" width="12.18" height="44.12" fill="#ffffbf"/>
<rect x="204.39" y="347.60" width="23.16" height="44.12" fill="#fff6b1"/>
<rect x="226.35" y="347.60" width="6.69" height="44.12" fill="#fec778"/>
<rect x="231.84" y="347.60" width="17.67" height="44.12" fill="#f46d43"/>
<rect x="248.31" y="347.60" width="23.16" height="44.12" fill="#eb5b3b"/>
<rect x="270.26" y="347.60" width="17.67" height="44.12" fill="#e0422f"/>
<rect x="286.73" y="347.60" width="6.69" height="44.12" fill="#d73027"/>
<rect x="292.22" y="347.60" width="23.16" height="44.12" fill="#be1826"/>
<rect x="314.18" y="347.60" width="17.67" height="44.12" fill="#d73027"/>
<rect x="330.65" y="347.60" width="17.67" height="44.12" fill="#eb5b3b"/>
<rect x="347.11" y="347.60" width="17.67" height="44.12" fill="#e64e35"/>
<rect x="363.58" y="347.60" width="17.67" height="44.12" fill="#dd3c2d"/>
<rect x="380.05" y="347.60" width="12.18" height="44.12" fill="#e0422f"/>
<rect x="391.03" y="347.60" width="23.16" height="44.12" fill="#e85538"/>
<rect x="412.99" y="347.60" width="12.18" height="44.12" fill="#e34832"/>
<rect x="423.96" y="347.60" width="34.14" height="44.12" fill="#da362a"/>
<rect x="456.90" y="347.60" width="6.69" height="44.12" fill="#c31d27"/>
<rect x="462.39" y="347.60" width="50.60" height="44.12" fill="#af0a26"/>
<rect x="511.79" y="347.60" width="12.18" height="44.12" fill="#c82227"/>
<rect x="522.77" y="347.60" width="34.14" height="44.12" fill="#d73027"/>
<rect x="555.71" y="347.60" width="28.65" height="44.12" fill="#da362a"/>
<rect x="583.15" y="347.60" width="34.14" height="44.12" fill="#e0422f"/>
<rect x="616.09" y="347.60" width="17.67" height="44.12" fill="#dd3c2d"/>
<rect x="632.56" y="347.60" width="17.67" height="44.12" fill="#e85538"/>
<rect x="649.03" y="347.60" width="17.67" height="44.12" fill="#e0422f"/>
<rect x="665.49" y="347.60" width="17.67" height="44.12" fill="#eb5b3b"/>
<rect x="681.96" y="347.60" width="17.67" height="44.12" fill="#da362a"/>
<rect x="698.43" y="347.60" width="28.65" height="44.12" fill="#be1826"/>
<rect x="725.88" y="347.60" width="12.18" height="44.12" fill="#aa0526"/>
<rect x="736.85" y="347.60" width="34.14" height="44.12" fill="#e0422f"/>
<rect x="769.79" y="347.60" width="12.18" height="44.12" fill="#d73027"/>
<rect x="780.77" y="347.60" width="17.67" height="44.12" fill="#ee613d"/>
<rect x="797.24" y="347.60" width="17.67" height="44.12" fill="#e0422f"/>
<rect x="813.71" y="347.60" width="6.69" height="44.12" fill="#d73027"/>
<rect x="819.19" y="347.60" width="6.69" height="44.12" fill="#f67a49"/>
<rect x="824.68" y="347.60" width="17.67" height="44.12" fill="#fdae61"/>
<rect x="841.15" y="347.60" width="12.18" height="44.12" fill="#fa9a58"/>
<rect x="852.13" y="347.60" width="28.65" height="44.12" fill="#fdbd6f"/>
<rect x="879.58" y="347.60" width="12.18" height="44.12" fill="#fba15b"/>
<rect x="890.56" y="347.60" width="23.16" height="44.12" fill="#fdbd6f"/>
<rect x="912.51" y="347.60" width="23.16" height="44.12" fill="#fed687"/>
<rect x="934.47" y="347.60" width="12.18" height="44.12" fill="#abd9e9"/>
<rect x="945.45" y="347.60" width="23.16" height="44.12" fill="#95c7df"/>
<rect x="967.41" y="347.60" width="23.16" height="44.12" fill="#333c98"/>
<rect x="989.36" y="347.60" width="12.18" height="44.12" fill="#4168ae"/>
<rect x="1000.34" y="347.60" width="12.18" height="44.12" fill="#5c91c2"/>
<rect x="1011.32" y="347.60" width="23.16" height="44.12" fill="#4575b4"/>
<rect x="1033.28" y="347.60" width="17.67" height="44.12" fill="#5386bd"/>
<rect x="1049.74" y="347.60" width="23.16" height="44.12" fill="#37499e"/>
<rect x="1071.70" y="347.60" width="6.69" height="44.12" fill="#74add1"/>
<rect x="1077.19" y="347.60" width="12.18" height="44.12" fill="#abd9e9"/>
<rect x="1088.17" y="347.60" width="12.18" height="44.12" fill="#74add1"/>
<rect x="1099.15" y="347.60" width="12.18" height="44.12" fill="#90c3dd"/>
<rect x="1110.13" y="347.60" width="17.67" height="44.12" fill="#b6deec"/>
<rect x="1126.59" y="347.60" width="17.67" height="44.12" fill="#90c3dd"/>
<rect x="1143.06" y="347.60" width="6.69" height="44.12" fill="#e0f3f8"/>
<rect x="1148.55" y="347.60" width="12.18" height="44.12" fill="#fee090"/>
<rect x="1159.53" y="347.60" width="6.69" height="44.12" fill="#ffffbf"/>
<rect x="1165.02" y="347.60" width="23.16" height="44.12" fill="#f0f9dc"/>
<rect x="1186.98" y="347.60" width="6.69" height="44.12" fill="#fef0a8"/>
<rect x="1192.47" y="347.60" width="12.18" height="44.12" fill="#ffffbf"/>
<rect x="1203.45" y="347.60" width="23.16" height="44.12" fill="#e0f3f8"/>
<rect x="1225.40" y="347.60" width="6.69" height="44.12" fill="#fee090"/>
<rect x="1230.89" y="347.60" width="12.18" height="44.12" fill="#fdbd6f"/>
<rect x="1241.87" y="347.60" width="17.67" height="44.12" fill="#fef0a8"/>
<rect x="1258.34" y="347.60" width="12.18" height="44.12" fill="#e0f3f8"/>
<rect x="1269.32" y="347.60" width="6.69" height="44.12" fill="#ffffbf"/>
<rect x="1274.81" y="347.60" width="12.18" height="44.12" fill="#4575b4"/>
<rect x="1285.78" y="347.60" width="23.16" height="44.12" fill="#37499e"/>
<rect x="1307.74" y="347.60" width="6.69" height="44.12" fill="#3f62ab"/>
<rect x="1313.23" y="347.60" width="28.65" height="44.12" fill="#333c98"/>
<rect x="1340.68" y="347.60" width="6.69" height="44.12" fill="#5c91c2"/>
<rect x="1346.17" y="347.60" width="12.18" height="44.12" fill="#74add1"/>
<rect x="1357.15" y="347.60" width="6.69" height="44.12" fill="#4575b4"/>
<rect x="1362.63" y="347.60" width="17.67" height="44.12" fill="#669cc8"/>
<rect x="1379.10" y="347.60" width="17.67" height="44.12" fill="#90c3dd"/>
<rect x="1395.57" y="347.60" width="23.16" height="44.12" fill="#6ba2cb"/>
<rect x="1417.53" y="347.60" width="6.69" height="44.12" fill="#b6deec"/>
<rect x="1423.02" y="347.60" width="17.67" height="44.12" fill="#ffffbf"/>
<rect x="1439.48" y="347.60" width="12.18" height="44.12" fill="#fec778"/>
<rect x="1450.46" y="347.60" width="6.69" height="44.12" fill="#fba15b"/>
<rect x="1455.95" y="347.60" width="6.69" height="44.12" fill="#e64e35"/>
<rect x="1461.44" y="347.60" width="6.69" height="44.12" fill="#af0a26"/>
<rect x="1466.93" y="347.60" width="6.69" height="44.12" fill="#c31d27"/>
<rect x="1472.42" y="347.60" width="12.18" height="44.12" fill="#d73027"/>
<rect x="1483.40" y="347.60" width="12.18" height="44.12" fill="#be1826"/>
<rect x="1494.38" y="347.60" width="12.18" height="44.12" fill="#aa0526"/>
<rect x="1505.36" y="347.60" width="12.18" height="44.12" fill="#d22b27"/>
<rect x="1516.34" y="347.60" width="34.14" height="44.12" fill="#dd3c2d"/>
<rect x="1549.27" y="347.60" width="17.67" height="44.12" fill="#ee613d"/>
<rect x="1565.74" y="347.60" width="6.69" height="44.12" fill="#f67a49"/>
<rect x="1571.23" y="347.60" width="12.18" height="44.12" fill="#dd3c2d"/>
<rect x="1582.21" y="347.60" width="28.65" height="44.12" fill="#e34832"/>
<rect x="1609.65" y="347.60" width="12.18" height="44.12" fill="#cd2627"/>
<rect x="1620.63" y="347.60" width="6.69" height="44.12" fill="#dd3c2d"/>
<rect x="1626.12" y="347.60" width="28.65" height="44.12" fill="#f46d43"/>
<rect x="1653.57" y="347.60" width="12.18" height="44.12" fill="#e0422f"/>
<rect x="1664.55" y="347.60" width="23.16" height="44.12" fill="#eb5b3b"/>
<rect x="1686.50" y="347.60" width="17.67" height="44.12" fill="#dd3c2d"/>
<rect x="1702.97" y="347.60" width="6.69" height="44.12" fill="#f46d43"/>
<rect x="1708.46" y="347.60" width="12.18" height="44.12" fill="#fdae61"/>
<rect x="1719.44" y="347.60" width="17.67" height="44.12" fill="#fee090"/>
<rect x="1735.91" y="347.60" width="6.69" height="44.12" fill="#ffffbf"/>
<rect x="1741.40" y="347.60" width="17.67" height="44.12" fill="#cbe9f2"/>
<rect x="1757.86" y="347.60" width="12.18" height="44.12" fill="#abd9e9"/>
<rect x="1768.84" y="347.60" width="12.18" height="44.12" fill="#9acce2"/>
<rect x="1779.82" y="347.60" width="14.98" height="44.12" fill="#7fb6d6"/>
</g></g>
<use href="#wm" y="-330.6" opacity="0.12"/>
<text class="tk" x="105.8" y="177.7" textLength="42.4">&gt;10k</text>
<text class="tk" x="94.2" y="216.6" textLength="54.0">1k-10k</text>
<text class="tk" x="93.2" y="255.5" textLength="55.0">100-1k</text>
<text class="tk" x="92.8" y="294.4" textLength="55.4">10-100</text>
<text class="tk" x="113.0" y="333.3" textLength="35.2">1-10</text>
<text class="tk" x="126.1" y="372.3" textLength="22.1">&lt;1</text>
<text class="ax" transform="translate(65.5,270) rotate(-90)" text-anchor="middle">Cohorts by BTC</text>
<rect x="149.5" y="470.4" width="1641.3" height="233.3" fill="#e5ecf6"/>
<line x1="149.5" x2="1790.8" y1="501.6" y2="501.6" stroke="#fff" stroke-width="1.15"/>
<line x1="149.5" x2="1790.8" y1="545.3" y2="545.3" stroke="#fff" stroke-width="1.15"/>
<line x1="149.5" x2="1790.8" y1="589.0" y2="589.0" stroke="#fff" stroke-width="1.15"/>
<line x1="149.5" x2="1790.8" y1="632.5" y2="632.5" stroke="#fff" stroke-width="1.15"/>
<line x1="149.5" x2="1790.8" y1="676.1" y2="676.1" stroke="#fff" stroke-width="1.15"/>
<line x1="212.5" x2="212.5" y1="470.4" y2="703.7" stroke="#fff" stroke-width="1.15"/>
<text class="tk" x="176.9" y="721.2" textLength="70.5">Jan 2025</text>
<line x1="382.7" x2="382.7" y1="470.4" y2="703.7" stroke="#fff" stroke-width="1.15"/>
<text class="tk" x="345.5" y="721.2" textLength="73.7">Feb 2025</text>
<line x1="536.5" x2="536.5" y1="470.4" y2="703.7" stroke="#fff" stroke-width="1.15"/>
<text class="tk" x="498.6" y="721.2" textLength="75.2">Mar 2025</text>
<line x1="706.7" x2="706.7" y1="470.4" y2="703.7" stroke="#fff" stroke-width="1.15"/>
<text class="tk" x="669.7" y="721.2" textLength="73.5">Apr 2025</text>
<line x1="871.4" x2="871.4" y1="470.4" y2="703.7" stroke="#fff" stroke-width="1.15"/>
<text class="tk" x="832.0" y="721.2" textLength="78.2">May 2025</text>
<line x1="1041.6" x2="1041.6" y1="470.4" y2="703.7" stroke="#fff" stroke-width="1.15"/>
<text class="tk" x="1005.8" y="721.2" textLength="70.9">Jun 2025</text>
<line x1="1206.3" x2="1206.3" y1="470.4" y2="703.7" stroke="#fff" stroke-width="1.15"/>
<text class="tk" x="1173.2" y="721.2" textLength="65.6">Jul 2025</text>
<line x1="1376.6" x2="1376.6" y1="470.4" y2="703.7" stroke="#fff" stroke-width="1.15"/>
<text class="tk" x="1338.2" y="721.2" textLength="76.2">Aug 2025</text>
<line x1="1546.8" x2="1546.8" y1="470.4" y2="703.7" stroke="#fff" stroke-width="1.15"/>
<text class="tk" x="1509.0" y="721.2" textLength="75.0">Sep 2025</text>
<line x1="1711.5" x2="1711.5" y1="470.4" y2="703.7" stroke="#fff" stroke-width="1.15"/>
<text class="tk" x="1674.7" y="721.2" textLength="73.0">Oct 2025</text>
<text class="tk" x="108.0" y="506.8" textLength="40.1">120k</text>
<text class="tk" x="108.0" y="550.4" textLength="40.1">110k</text>
<text class="tk" x="108.0" y="594.1" textLength="40.1">100k</text>
<text class="tk" x="117.8" y="637.6" textLength="30.3">90k</text>
<text class="tk" x="117.8" y="681.2" textLength="30.3">80k</text>
<text class="ax" transform="translate(82,587) rotate(-90)" text-anchor="middle">Price</text>
<use href="#wm" opacity="0.125"/>
<polyline points="152.3,602.2 157.8,610.3 163.3,612.3 168.8,594.7 174.3,592.8 179.8,607.5 185.2,615.3 190.7,609.5 196.2,616.2 201.7,621.2 207.2,617.3 212.7,613.4 218.2,603.3 223.7,597.8 229.2,596.6 234.7,595.5 240.1,579.8 245.6,602.5 251.1,611.1 256.6,621.6 262.1,612.2 267.6,611.9 273.1,613.4 278.6,613.9 284.1,604.1 289.6,588.4 295.0,589.7 300.5,570.5 306.0,569.7 311.5,581.9 317.0,580.3 322.5,562.7 328.0,572.0 333.5,570.9 339.0,568.6 344.5,568.1 349.9,577.5 355.4,580.9 360.9,584.2 366.4,573.1 371.9,568.1 377.4,579.1 382.9,586.1 388.4,599.7 393.9,583.4 399.4,599.1 404.8,603.3 410.3,604.1 415.8,604.1 421.3,603.8 426.8,604.8 432.3,599.8 437.8,608.0 443.3,598.0 448.8,603.4 454.2,599.8 459.7,599.5 465.2,605.5 470.7,607.3 476.2,608.1 481.7,603.4 487.2,595.6 492.7,605.8 498.2,603.8 503.7,605.0 509.2,624.5 514.6,639.4 520.1,658.1 525.6,655.8 531.1,657.0 536.6,649.5 542.1,614.4 547.6,648.3 553.1,643.8 558.6,629.5 564.0,632.3 569.5,646.4 575.0,648.8 580.5,673.0 586.0,681.9 591.5,662.8 597.0,660.2 602.5,670.9 608.0,658.6 613.5,656.9 619.0,665.2 624.4,658.4 629.9,664.8 635.4,646.9 640.9,657.3 646.4,658.1 651.9,659.4 657.4,649.5 662.9,643.0 668.4,643.6 673.9,645.6 679.3,644.5 684.8,656.9 690.3,664.4 695.8,665.6 701.3,665.2 706.8,653.9 712.3,665.2 717.8,662.3 723.3,659.4 728.8,660.5 734.2,683.4 739.7,680.0 745.2,691.7 750.7,665.5 756.2,677.7 761.7,661.2 767.2,652.7 772.7,660.0 778.2,656.2 783.7,660.5 789.1,658.1 794.6,654.5 800.1,656.6 805.6,653.8 811.1,653.4 816.6,642.5 822.1,617.2 827.6,616.2 833.1,614.8 838.5,612.3 844.0,612.8 849.5,616.2 855.0,610.5 860.5,613.6 866.0,614.1 871.5,604.2 877.0,602.3 882.5,606.6 888.0,612.8 893.5,611.2 898.9,602.7 904.4,601.6 909.9,575.0 915.4,576.2 920.9,568.0 926.4,571.4 931.9,576.9 937.4,571.1 942.9,573.1 948.4,572.3 953.8,573.9 959.3,575.3 964.8,560.5 970.3,564.1 975.8,558.6 981.3,547.7 986.8,538.3 992.3,557.0 997.8,555.2 1003.2,549.7 1008.7,547.3 1014.2,549.7 1019.7,554.4 1025.2,563.3 1030.7,571.6 1036.2,568.8 1041.7,564.4 1047.2,563.3 1052.7,564.8 1058.2,568.3 1063.6,581.2 1069.1,570.3 1074.6,564.4 1080.1,563.6 1085.6,544.1 1091.1,544.2 1096.6,550.8 1102.1,563.8 1107.6,562.0 1113.0,564.5 1118.5,564.4 1124.0,559.4 1129.5,568.4 1135.0,567.5 1140.5,568.3 1146.0,574.2 1151.5,579.7 1157.0,585.2 1162.5,564.8 1168.0,561.7 1173.4,556.4 1178.9,558.3 1184.4,557.8 1189.9,556.7 1195.4,552.3 1200.9,558.8 1206.4,564.5 1211.9,550.5 1217.4,547.0 1222.8,553.9 1228.3,552.8 1233.8,548.4 1239.3,553.1 1244.8,550.2 1250.3,538.0 1255.8,519.7 1261.3,513.0 1266.8,513.3 1272.3,505.9 1277.8,502.5 1283.2,511.9 1288.7,507.5 1294.2,505.2 1299.7,510.9 1305.2,511.1 1310.7,513.4 1316.2,513.4 1321.7,501.7 1327.2,507.0 1332.7,509.1 1338.1,512.2 1343.6,510.9 1349.1,503.9 1354.6,510.3 1360.1,510.9 1365.6,511.4 1371.1,520.8 1376.6,530.9 1382.1,534.1 1387.5,527.0 1393.0,523.1 1398.5,527.3 1404.0,523.1 1409.5,512.7 1415.0,515.6 1420.5,517.3 1426.0,504.7 1431.5,507.5 1437.0,501.7 1442.5,488.0 1447.9,508.8 1453.4,512.5 1458.9,513.0 1464.4,513.0 1469.9,517.7 1475.4,533.3 1480.9,526.6 1486.4,533.8 1491.9,515.8 1497.3,522.3 1502.8,530.2 1508.3,544.2 1513.8,537.7 1519.3,539.8 1524.8,534.1 1530.3,552.5 1535.8,550.5 1541.3,553.1 1546.8,548.6 1552.2,540.3 1557.7,538.0 1563.2,541.9 1568.7,542.7 1574.2,544.7 1579.7,541.1 1585.2,536.4 1590.7,538.4 1596.2,527.8 1601.7,521.6 1607.2,519.2 1612.6,520.0 1618.1,522.7 1623.6,522.0 1629.1,515.8 1634.6,517.3 1640.1,514.5 1645.6,520.8 1651.1,520.5 1656.6,522.8 1662.0,533.0 1667.5,536.4 1673.0,530.6 1678.5,549.7 1684.0,547.0 1689.5,546.6 1695.0,536.4 1700.5,525.9 1706.0,527.8 1711.5,507.2 1717.0,498.8 1722.4,492.3 1727.9,491.5 1733.4,486.3 1738.9,481.1 1744.4,495.2 1749.9,487.3 1755.4,494.4 1760.9,531.8 1766.4,541.6 1771.8,522.8 1777.3,522.0 1782.8,531.8 1788.3,541.2" fill="none" stroke="#757a80" stroke-width="2.35" stroke-linejoin="round"/>
<rect x="1837.3" y="165.8" width="39.7" height="524.9" fill="url(#cb)"/>
<text class="tk" x="1881.6" y="696.0">0</text>
<text class="tk" x="1881.6" y="591.0" textLength="24.6">0.2</text>
<text class="tk" x="1881.6" y="486.0" textLength="24.6">0.4</text>
<text class="tk" x="1881.6" y="381.1" textLength="24.6">0.6</text>
<text class="tk" x="1881.6" y="276.1" textLength="24.6">0.8</text>
<text class="tk" x="1881.6" y="171.1">1</text>
<text class="ft" x="152.3" y="765" textLength="316.5">Based on data from 2025-10-16</text>
<text class="ft" x="1397.3" y="765" textLength="389.5">© 2025 Glassnode. All Rights Reserved</text>
</svg></body></html>
